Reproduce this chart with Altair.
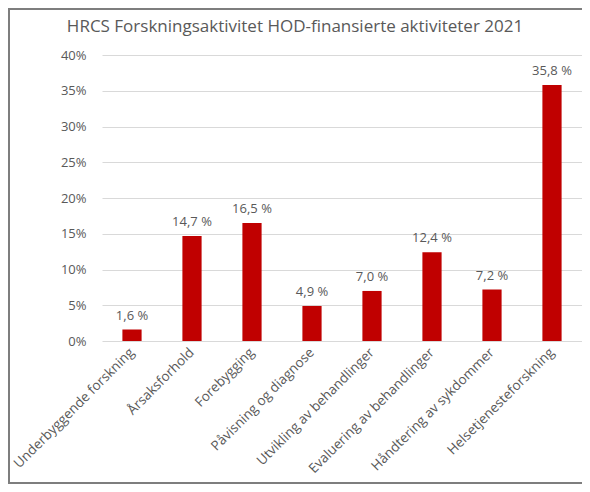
import altair as alt
import pandas as pd

categories = [
    "Underbyggende forskning",
    "Årsaksforhold",
    "Forebygging",
    "Påvisning og diagnose",
    "Utvikling av behandlinger",
    "Evaluering av behandlinger",
    "Håndtering av sykdommer",
    "Helsetjenesteforskning",
]
values = [1.6, 14.7, 16.5, 4.9, 7.0, 12.4, 7.2, 35.8]
y_ticks = [0, 5, 10, 15, 20, 25, 30, 35, 40]
title_text = "HRCS Forskningsaktivitet HOD-finansierte aktiviteter 2021"

df = pd.DataFrame({"kategori": categories, "andel": values})

FONT = "Open Sans"
GREY = "#595959"
RED = "#c00000"

x_enc = alt.X(
    "kategori:N",
    sort=categories,
    scale=alt.Scale(paddingInner=0.68, paddingOuter=0.34),
    axis=alt.Axis(
        title=None,
        labelAngle=-45,
        labelAlign="right",
        labelBaseline="middle",
        labelFont=FONT,
        labelFontSize=13.5,
        labelColor=GREY,
        labelPadding=9,
        ticks=False,
        domain=False,
        labelOverlap=False,
        labelLimit=0,
    ),
)
y_enc = alt.Y(
    "andel:Q",
    scale=alt.Scale(domain=[0, 40], nice=False),
    axis=alt.Axis(
        title=None,
        values=y_ticks,
        labelExpr="datum.value + '%'",
        labelFont=FONT,
        labelFontSize=13,
        labelColor=GREY,
        labelPadding=16,
        labelOverlap=False,
        ticks=False,
        domain=False,
        gridColor="#d9d9d9",
        gridWidth=1,
    ),
)

bars = alt.Chart(df).mark_bar(color=RED).encode(x=x_enc, y=y_enc)

labels = (
    alt.Chart(df)
    .transform_calculate(
        lbl="replace(format(datum.andel, '.1f'), '.', ',') + ' %'"
    )
    .mark_text(dy=-7, font=FONT, fontSize=13, color=GREY, baseline="bottom")
    .encode(x=x_enc, y=y_enc, text="lbl:N")
)

title_df = pd.DataFrame({"t": [title_text]})
title = (
    alt.Chart(title_df)
    .mark_text(font=FONT, fontSize=17, color=GREY, align="center", baseline="middle", clip=False)
    .encode(x=alt.value(193), y=alt.value(-28), text="t:N")
)

frame = (
    alt.Chart(df)
    .mark_rect(fill=None, stroke="#7f7f7f", strokeWidth=1.5, clip=False)
    .encode(
        x=alt.value(-93),
        x2=alt.value(482),
        y=alt.value(-46),
        y2=alt.value(428),
    )
)

chart = (
    alt.layer(frame, bars, labels, title)
    .properties(
        width=480,
        height=286,
        padding={"left": 94, "top": 47, "right": 0, "bottom": 143},
        autosize=alt.AutoSizeParams(type="none"),
    )
    .configure_view(stroke=None)
)

chart.save("out.html", embed_options={"renderer": "svg", "actions": False})
